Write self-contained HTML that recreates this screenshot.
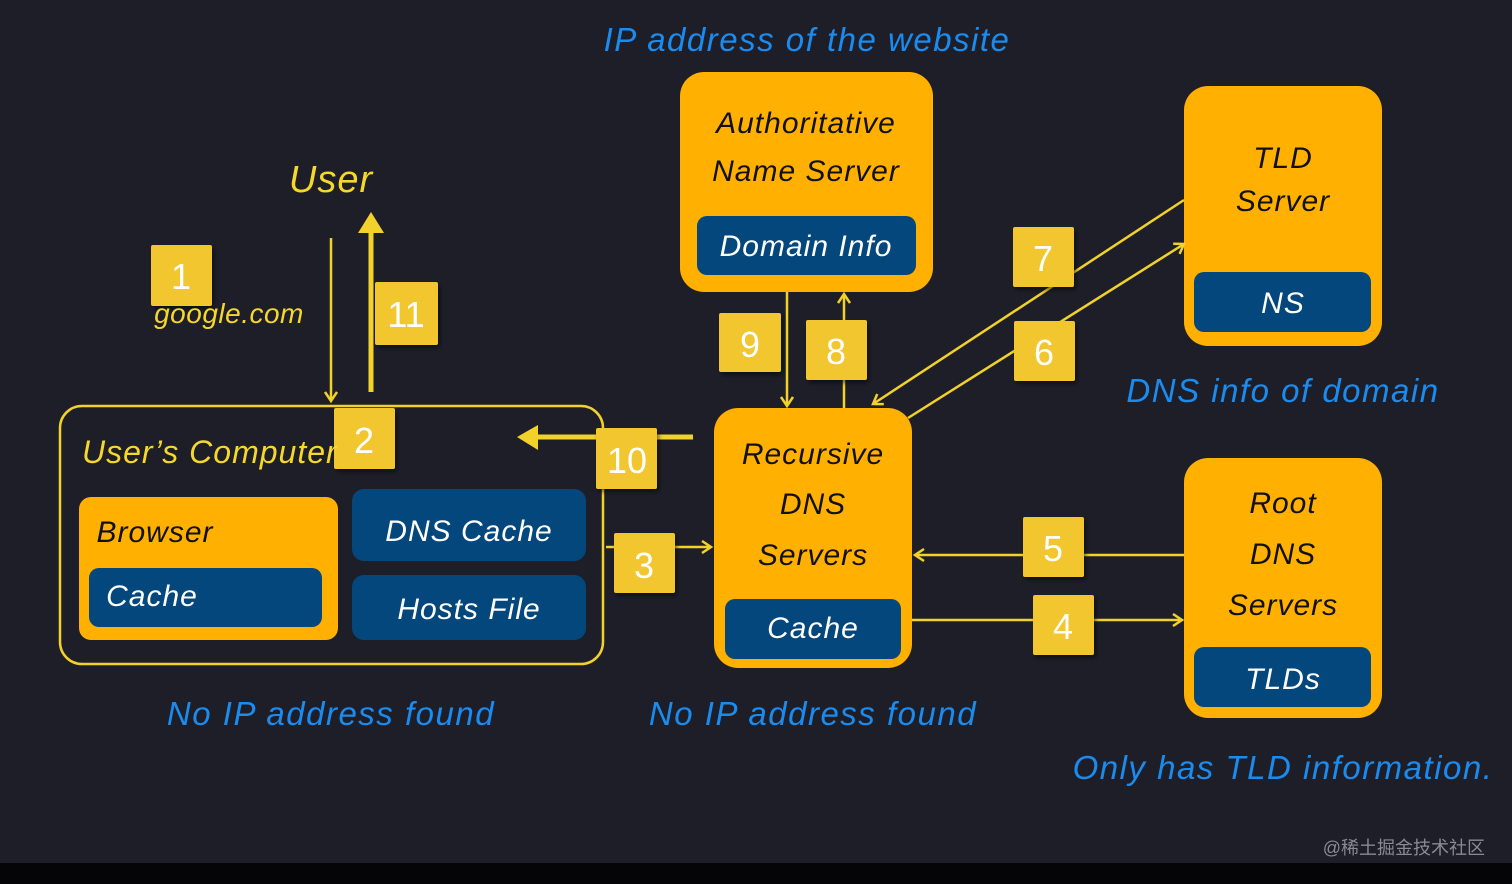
<!DOCTYPE html>
<html><head><meta charset="utf-8"><style>
html,body{margin:0;padding:0;background:#1e1e29;}
svg{display:block}
.h{font-family:"Liberation Sans",sans-serif;font-style:italic;}
.n{font-family:"Liberation Sans",sans-serif;fill:#fff;font-size:36px;text-anchor:middle;}
</style></head><body>
<svg width="1512" height="884" viewBox="0 0 1512 884" xmlns="http://www.w3.org/2000/svg">
<defs>
<marker id="a" markerWidth="14" markerHeight="14" refX="11" refY="7" orient="auto" markerUnits="userSpaceOnUse"><path d="M2,1 L11,7 L2,13" fill="none" stroke="#f2d22a" stroke-width="2.5"/></marker>
<filter id="s"><feDropShadow dx="2" dy="3" stdDeviation="2" flood-color="#000" flood-opacity="0.5"/></filter>
</defs>
<rect width="1512" height="884" fill="#1e1e29"/>
<rect y="863" width="1512" height="21" fill="#050507"/>

<rect x="680" y="72" width="253" height="220" rx="24" fill="#ffb000"/>
<rect x="697" y="216" width="219" height="59" rx="10" fill="#04477c"/>
<rect x="1184" y="86" width="198" height="260" rx="24" fill="#ffb000"/>
<rect x="1194" y="272" width="177" height="60" rx="10" fill="#04477c"/>
<rect x="714" y="408" width="198" height="260" rx="24" fill="#ffb000"/>
<rect x="725" y="599" width="176" height="60" rx="10" fill="#04477c"/>
<rect x="1184" y="458" width="198" height="260" rx="24" fill="#ffb000"/>
<rect x="1194" y="647" width="177" height="60" rx="10" fill="#04477c"/>
<rect x="60" y="406" width="543" height="258" rx="22" fill="none" stroke="#f2d22a" stroke-width="2.5"/>
<rect x="79" y="497" width="259" height="143" rx="12" fill="#ffb000"/>
<rect x="89" y="568" width="233" height="59" rx="10" fill="#04477c"/>
<rect x="352" y="489" width="234" height="72" rx="12" fill="#04477c"/>
<rect x="352" y="575" width="234" height="65" rx="12" fill="#04477c"/>

<g stroke="#f2d22a" stroke-width="2.5" fill="none">
<line x1="331" y1="238" x2="331" y2="401" marker-end="url(#a)"/>
<line x1="606" y1="547" x2="711" y2="547" marker-end="url(#a)"/>
<line x1="787" y1="292" x2="787" y2="406" marker-end="url(#a)"/>
<line x1="844" y1="408" x2="844" y2="294" marker-end="url(#a)"/>
<line x1="1184" y1="200" x2="873" y2="404" marker-end="url(#a)"/>
<line x1="908" y1="418" x2="1184" y2="244" marker-end="url(#a)"/>
<line x1="1184" y1="555" x2="915" y2="555" marker-end="url(#a)"/>
<line x1="912" y1="620" x2="1182" y2="620" marker-end="url(#a)"/>
</g>
<line x1="371" y1="392" x2="371" y2="230" stroke="#f2d22a" stroke-width="5"/>
<path d="M358,233 L371,212 L384,233 Z" fill="#f2d22a"/>
<line x1="693" y1="437" x2="536" y2="437" stroke="#f2d22a" stroke-width="5"/>
<path d="M538,425 L517,437 L538,450 Z" fill="#f2d22a"/>

<g fill="#f2c62f" filter="url(#s)">
<rect x="151" y="245" width="61" height="61" rx="2"/>
<rect x="375" y="282" width="63" height="63" rx="2"/>
<rect x="334" y="408" width="61" height="61" rx="2"/>
<rect x="596" y="428" width="61" height="61" rx="2"/>
<rect x="614" y="533" width="61" height="60" rx="2"/>
<rect x="719" y="313" width="62" height="59" rx="2"/>
<rect x="806" y="320" width="61" height="60" rx="2"/>
<rect x="1013" y="227" width="61" height="60" rx="2"/>
<rect x="1014" y="321" width="61" height="60" rx="2"/>
<rect x="1023" y="517" width="61" height="60" rx="2"/>
<rect x="1033" y="595" width="61" height="60" rx="2"/>
</g>
<g class="n">
<text x="181" y="289">1</text>
<text x="406" y="327">11</text>
<text x="364" y="453">2</text>
<text x="627" y="473">10</text>
<text x="644" y="578">3</text>
<text x="750" y="357">9</text>
<text x="836" y="364">8</text>
<text x="1043" y="271">7</text>
<text x="1044" y="365">6</text>
<text x="1053" y="561">5</text>
<text x="1063" y="639">4</text>
</g>

<g class="h" font-size="30" text-anchor="middle" fill="#111" letter-spacing="1">
<text x="806" y="133">Authoritative</text>
<text x="806" y="181">Name Server</text>
<text x="1283" y="168">TLD</text>
<text x="1283" y="211">Server</text>
<text x="813" y="464">Recursive</text>
<text x="813" y="514">DNS</text>
<text x="813" y="565">Servers</text>
<text x="1283" y="513">Root</text>
<text x="1283" y="564">DNS</text>
<text x="1283" y="615">Servers</text>
<text x="155" y="542">Browser</text>
</g>
<g class="h" font-size="30" text-anchor="middle" fill="#fff" letter-spacing="1">
<text x="806" y="256">Domain Info</text>
<text x="1283" y="313">NS</text>
<text x="813" y="638">Cache</text>
<text x="1283" y="689">TLDs</text>
<text x="152" y="606">Cache</text>
<text x="469" y="541">DNS Cache</text>
<text x="469" y="619">Hosts File</text>
</g>
<g class="h" fill="#f5d82a">
<text x="331" y="192" font-size="38" text-anchor="middle" letter-spacing="1">User</text>
<text x="229" y="323" font-size="28" text-anchor="middle" letter-spacing="0.5">google.com</text>
<text x="82" y="463" font-size="32" letter-spacing="1">User’s Computer</text>
</g>
<g class="h" fill="#1a8cf0" font-size="33" text-anchor="middle" letter-spacing="1.5">
<text x="807" y="51">IP address of the website</text>
<text x="1283" y="402">DNS info of domain</text>
<text x="331" y="725">No IP address found</text>
<text x="813" y="725">No IP address found</text>
<text x="1283" y="779">Only has TLD information.</text>
</g>
<text x="1485" y="854" font-size="18" text-anchor="end" fill="#8a8a90" font-family="'Liberation Sans','Noto Sans CJK SC',sans-serif">@稀土掘金技术社区</text>
</svg>
</body></html>
